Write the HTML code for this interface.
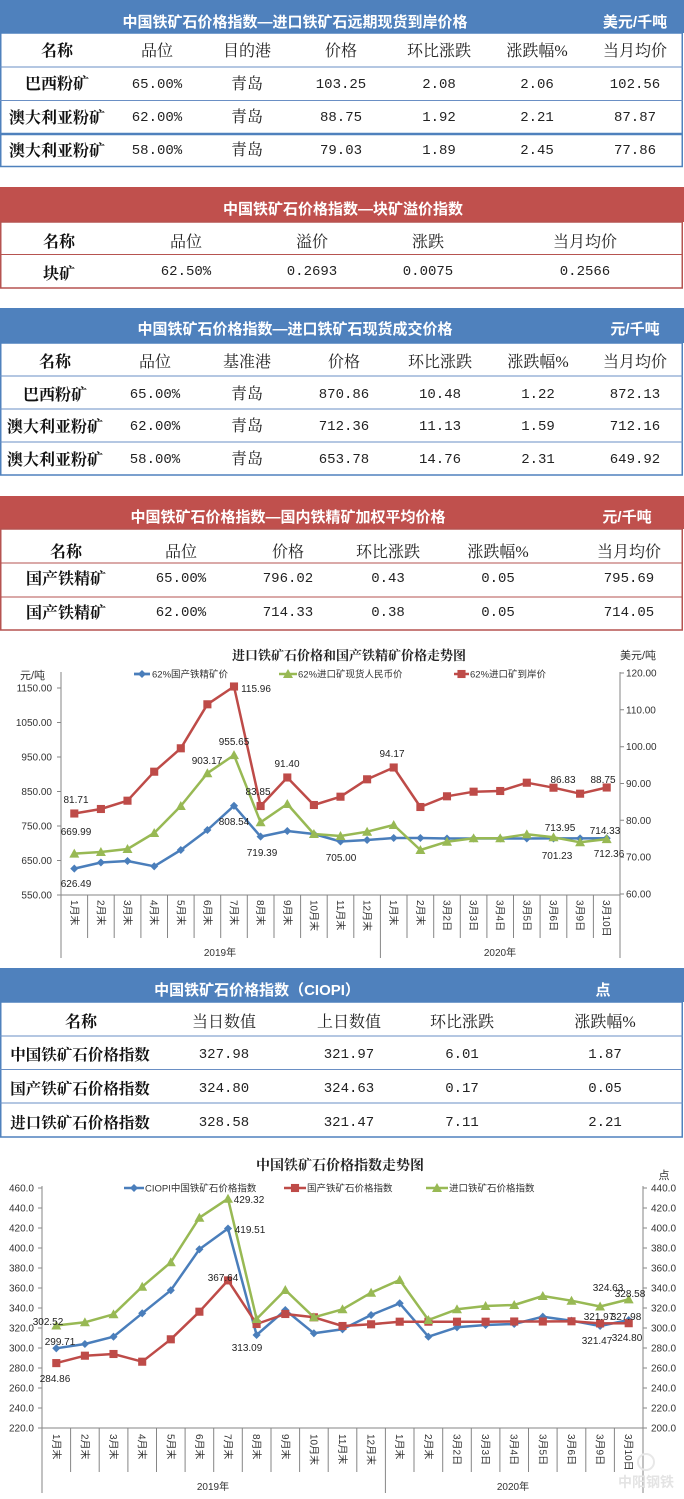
<!DOCTYPE html>
<html><head><meta charset="utf-8"><style>
html,body{margin:0;padding:0;background:#fff;}
svg{display:block;}
.tt{font-family:"Liberation Sans","Noto Sans CJK SC",sans-serif;font-weight:bold;font-size:15px;fill:#fff;}
.nm{font-family:"Liberation Serif","Noto Serif CJK SC",serif;font-weight:bold;font-size:16px;fill:#111;text-anchor:middle;}
.hd{font-family:"Liberation Serif","Noto Serif CJK SC",serif;font-size:16px;fill:#222;text-anchor:middle;}
.nu{font-family:"Liberation Mono",monospace;font-size:14px;fill:#222;text-anchor:middle;}
.ax{font-family:"Liberation Sans","Noto Sans CJK SC",sans-serif;font-size:10px;fill:#333;}
.dl{font-family:"Liberation Sans",sans-serif;font-size:10px;fill:#222;text-anchor:middle;}
.cat{font-family:"Liberation Sans","Noto Sans CJK SC",sans-serif;font-size:10px;fill:#333;}
.lg{font-family:"Liberation Sans","Noto Sans CJK SC",sans-serif;font-size:9.5px;fill:#333;}
.ct{font-family:"Liberation Serif","Noto Serif CJK SC",serif;font-weight:bold;font-size:13px;fill:#222;text-anchor:middle;}
</style></head><body>
<svg width="684" height="1499" viewBox="0 0 684 1499" xmlns="http://www.w3.org/2000/svg">
<defs>
<marker id="mb" viewBox="-5 -5 10 10" refX="0" refY="0" markerWidth="9" markerHeight="9" markerUnits="userSpaceOnUse"><path d="M0,-4.5L4.5,0L0,4.5L-4.5,0Z" fill="#4A7EBB"/></marker>
<marker id="mr" viewBox="-5 -5 10 10" refX="0" refY="0" markerWidth="9" markerHeight="9" markerUnits="userSpaceOnUse"><rect x="-4.5" y="-4.5" width="9" height="9" fill="#BE4B48"/></marker>
<marker id="mg" viewBox="-5 -5 10 10" refX="0" refY="0" markerWidth="10" markerHeight="10" markerUnits="userSpaceOnUse"><path d="M0,-5L5,4L-5,4Z" fill="#98B954"/></marker>
</defs>

<!-- TABLE 1 -->
<rect x="0" y="0" width="684" height="33" fill="#4F81BD"/>
<text class="tt" x="295" y="27" text-anchor="middle">中国铁矿石价格指数—进口铁矿石远期现货到岸价格</text>
<text class="tt" x="635" y="27" text-anchor="middle">美元/千吨</text>
<rect x="0.75" y="33" width="681.5" height="133.5" fill="#fff" stroke="#4F81BD" stroke-width="1.5"/>
<line x1="0" y1="67" x2="683" y2="67" stroke="#6a8fc4" stroke-width="1"/>
<line x1="0" y1="100.5" x2="683" y2="100.5" stroke="#6a8fc4" stroke-width="1"/>
<line x1="0" y1="134" x2="683" y2="134" stroke="#4F81BD" stroke-width="2.5"/>
<text class="nm" x="57" y="56">名称</text>
<text class="hd" x="157" y="56">品位</text><text class="hd" x="247" y="56">目的港</text><text class="hd" x="341" y="56">价格</text><text class="hd" x="439" y="56">环比涨跌</text><text class="hd" x="537" y="56">涨跌幅%</text><text class="hd" x="635" y="56">当月均价</text>
<text class="nm" x="57" y="89">巴西粉矿</text>
<text class="nu" x="157" y="88">65.00%</text><text class="hd" x="247" y="89">青岛</text><text class="nu" x="341" y="88">103.25</text><text class="nu" x="439" y="88">2.08</text><text class="nu" x="537" y="88">2.06</text><text class="nu" x="635" y="88">102.56</text>
<text class="nm" x="57" y="123">澳大利亚粉矿</text>
<text class="nu" x="157" y="121">62.00%</text><text class="hd" x="247" y="122">青岛</text><text class="nu" x="341" y="121">88.75</text><text class="nu" x="439" y="121">1.92</text><text class="nu" x="537" y="121">2.21</text><text class="nu" x="635" y="121">87.87</text>
<text class="nm" x="57" y="156">澳大利亚粉矿</text>
<text class="nu" x="157" y="154">58.00%</text><text class="hd" x="247" y="155">青岛</text><text class="nu" x="341" y="154">79.03</text><text class="nu" x="439" y="154">1.89</text><text class="nu" x="537" y="154">2.45</text><text class="nu" x="635" y="154">77.86</text>

<!-- TABLE 2 -->
<rect x="0" y="187" width="684" height="35" fill="#C0504D"/>
<text class="tt" x="343" y="214" text-anchor="middle">中国铁矿石价格指数—块矿溢价指数</text>
<rect x="0.75" y="222" width="681.5" height="66" fill="#fff" stroke="#B65350" stroke-width="1.5"/>
<line x1="0" y1="254.5" x2="683" y2="254.5" stroke="#B65350" stroke-width="1"/>
<text class="nm" x="59" y="247">名称</text>
<text class="hd" x="186" y="247">品位</text><text class="hd" x="312" y="247">溢价</text><text class="hd" x="428" y="247">涨跌</text><text class="hd" x="585" y="247">当月均价</text>
<text class="nm" x="59" y="279">块矿</text>
<text class="nu" x="186" y="275">62.50%</text><text class="nu" x="312" y="275">0.2693</text><text class="nu" x="428" y="275">0.0075</text><text class="nu" x="585" y="275">0.2566</text>

<!-- TABLE 3 -->
<rect x="0" y="308" width="684" height="35" fill="#4F81BD"/>
<text class="tt" x="295" y="334" text-anchor="middle">中国铁矿石价格指数—进口铁矿石现货成交价格</text>
<text class="tt" x="635" y="334" text-anchor="middle">元/千吨</text>
<rect x="0.75" y="343" width="681.5" height="132" fill="#fff" stroke="#4F81BD" stroke-width="1.5"/>
<line x1="0" y1="376" x2="683" y2="376" stroke="#6a8fc4" stroke-width="1"/>
<line x1="0" y1="409" x2="683" y2="409" stroke="#6a8fc4" stroke-width="1"/>
<line x1="0" y1="442" x2="683" y2="442" stroke="#6a8fc4" stroke-width="1"/>
<text class="nm" x="55" y="367">名称</text>
<text class="hd" x="155" y="367">品位</text><text class="hd" x="247" y="367">基准港</text><text class="hd" x="344" y="367">价格</text><text class="hd" x="440" y="367">环比涨跌</text><text class="hd" x="538" y="367">涨跌幅%</text><text class="hd" x="635" y="367">当月均价</text>
<text class="nm" x="55" y="400">巴西粉矿</text>
<text class="nu" x="155" y="398">65.00%</text><text class="hd" x="247" y="399">青岛</text><text class="nu" x="344" y="398">870.86</text><text class="nu" x="440" y="398">10.48</text><text class="nu" x="538" y="398">1.22</text><text class="nu" x="635" y="398">872.13</text>
<text class="nm" x="55" y="432">澳大利亚粉矿</text>
<text class="nu" x="155" y="430">62.00%</text><text class="hd" x="247" y="431">青岛</text><text class="nu" x="344" y="430">712.36</text><text class="nu" x="440" y="430">11.13</text><text class="nu" x="538" y="430">1.59</text><text class="nu" x="635" y="430">712.16</text>
<text class="nm" x="55" y="465">澳大利亚粉矿</text>
<text class="nu" x="155" y="463">58.00%</text><text class="hd" x="247" y="464">青岛</text><text class="nu" x="344" y="463">653.78</text><text class="nu" x="440" y="463">14.76</text><text class="nu" x="538" y="463">2.31</text><text class="nu" x="635" y="463">649.92</text>

<!-- TABLE 4 -->
<rect x="0" y="496" width="684" height="33" fill="#C0504D"/>
<text class="tt" x="288" y="522" text-anchor="middle">中国铁矿石价格指数—国内铁精矿加权平均价格</text>
<text class="tt" x="627" y="522" text-anchor="middle">元/千吨</text>
<rect x="0.75" y="529" width="681.5" height="101" fill="#fff" stroke="#B65350" stroke-width="1.5"/>
<line x1="0" y1="563" x2="683" y2="563" stroke="#B65350" stroke-width="1"/>
<line x1="0" y1="597" x2="683" y2="597" stroke="#B65350" stroke-width="1"/>
<text class="nm" x="66" y="557">名称</text>
<text class="hd" x="181" y="557">品位</text><text class="hd" x="288" y="557">价格</text><text class="hd" x="388" y="557">环比涨跌</text><text class="hd" x="498" y="557">涨跌幅%</text><text class="hd" x="629" y="557">当月均价</text>
<text class="nm" x="66" y="584">国产铁精矿</text>
<text class="nu" x="181" y="582">65.00%</text><text class="nu" x="288" y="582">796.02</text><text class="nu" x="388" y="582">0.43</text><text class="nu" x="498" y="582">0.05</text><text class="nu" x="629" y="582">795.69</text>
<text class="nm" x="66" y="618">国产铁精矿</text>
<text class="nu" x="181" y="616">62.00%</text><text class="nu" x="288" y="616">714.33</text><text class="nu" x="388" y="616">0.38</text><text class="nu" x="498" y="616">0.05</text><text class="nu" x="629" y="616">714.05</text>

<!-- CHART 1 -->
<text class="ct" x="349" y="660">进口铁矿石价格和国产铁精矿价格走势图</text>
<text class="ax" x="20" y="679" style="font-size:11px">元/吨</text>
<text class="ax" x="620" y="659" style="font-size:11px">美元/吨</text>
<!-- legend -->
<line x1="134" y1="674" x2="150" y2="674" stroke="#4A7EBB" stroke-width="2.5" marker-mid="url(#mb)"/>
<polyline points="134,674 142,674 150,674" fill="none" stroke="#4A7EBB" stroke-width="2.5" marker-mid="url(#mb)"/>
<text class="lg" x="152" y="677.5">62%国产铁精矿价</text>
<polyline points="279,674 288,674 297,674" fill="none" stroke="#98B954" stroke-width="2.5" marker-mid="url(#mg)"/>
<text class="lg" x="298" y="677.5">62%进口矿现货人民币价</text>
<polyline points="454,674 461.5,674 469,674" fill="none" stroke="#BE4B48" stroke-width="2.5" marker-mid="url(#mr)"/>
<text class="lg" x="470" y="677.5">62%进口矿到岸价</text>
<!-- axes -->
<g stroke="#868686" stroke-width="1" fill="none">
<line x1="61" y1="672" x2="61" y2="958"/>
<line x1="620" y1="672" x2="620" y2="958"/>
<line x1="61" y1="895" x2="620" y2="895"/>
<line x1="380.4" y1="895" x2="380.4" y2="958"/>
<path d="M87.6,895V938M114.2,895V938M140.9,895V938M167.5,895V938M194.1,895V938M220.7,895V938M247.3,895V938M274,895V938M300.6,895V938M327.2,895V938M353.8,895V938M407,895V938M433.7,895V938M460.3,895V938M486.9,895V938M513.5,895V938M540.1,895V938M566.8,895V938M593.4,895V938"/>
<path d="M57,895H61M57,860.5H61M57,826H61M57,791.5H61M57,757H61M57,722.5H61M57,688H61"/>
<path d="M620,894H624M620,857.2H624M620,820.3H624M620,783.5H624M620,746.7H624M620,709.8H624M620,673H624"/>
</g>
<g class="ax" text-anchor="end">
<text x="52" y="898.5">550.00</text><text x="52" y="864">650.00</text><text x="52" y="829.5">750.00</text><text x="52" y="795">850.00</text><text x="52" y="760.5">950.00</text><text x="52" y="726">1050.00</text><text x="52" y="691.5">1150.00</text>
</g>
<g class="ax">
<text x="626" y="897.5">60.00</text><text x="626" y="860.7">70.00</text><text x="626" y="823.8">80.00</text><text x="626" y="787">90.00</text><text x="626" y="750.2">100.00</text><text x="626" y="713.3">110.00</text><text x="626" y="676.5">120.00</text>
</g>
<!-- category labels chart1 -->
<g class="cat">
<text transform="translate(70.8,900) rotate(90)">1月末</text>
<text transform="translate(97.4,900) rotate(90)">2月末</text>
<text transform="translate(124,900) rotate(90)">3月末</text>
<text transform="translate(150.7,900) rotate(90)">4月末</text>
<text transform="translate(177.3,900) rotate(90)">5月末</text>
<text transform="translate(203.9,900) rotate(90)">6月末</text>
<text transform="translate(230.5,900) rotate(90)">7月末</text>
<text transform="translate(257.1,900) rotate(90)">8月末</text>
<text transform="translate(283.8,900) rotate(90)">9月末</text>
<text transform="translate(310.4,900) rotate(90)">10月末</text>
<text transform="translate(337,900) rotate(90)">11月末</text>
<text transform="translate(363.6,900) rotate(90)">12月末</text>
<text transform="translate(390.2,900) rotate(90)">1月末</text>
<text transform="translate(416.9,900) rotate(90)">2月末</text>
<text transform="translate(443.5,900) rotate(90)">3月2日</text>
<text transform="translate(470.1,900) rotate(90)">3月3日</text>
<text transform="translate(496.7,900) rotate(90)">3月4日</text>
<text transform="translate(523.3,900) rotate(90)">3月5日</text>
<text transform="translate(550,900) rotate(90)">3月6日</text>
<text transform="translate(576.6,900) rotate(90)">3月9日</text>
<text transform="translate(603.2,900) rotate(90)">3月10日</text>
</g>
<text class="ax" x="220" y="956" text-anchor="middle">2019年</text>
<text class="ax" x="500" y="956" text-anchor="middle">2020年</text>
<!-- series chart1 -->
<polyline fill="none" stroke="#4A7EBB" stroke-width="2.5" stroke-linejoin="round" marker-start="url(#mb)" marker-mid="url(#mb)" marker-end="url(#mb)" points="74.3,868.6 100.9,862.5 127.5,861 154.2,866.3 180.8,850 207.4,830 234,805.8 260.6,836.6 287.3,831 313.9,834 340.5,841.5 367.1,840 393.7,838 420.4,838 447,838.5 473.6,838.5 500.2,838.5 526.8,838.5 553.5,838.4 580.1,838.4 606.7,838.3"/>
<polyline fill="none" stroke="#98B954" stroke-width="2.5" stroke-linejoin="round" marker-start="url(#mg)" marker-mid="url(#mg)" marker-end="url(#mg)" points="74.3,853.6 100.9,852 127.5,849 154.2,833 180.8,806 207.4,773.2 234,755.1 260.6,822.3 287.3,804 313.9,834 340.5,836 367.1,831.7 393.7,825 420.4,850 447,841.7 473.6,838.3 500.2,838.3 526.8,834.3 553.5,837.3 580.1,842.3 606.7,839.1"/>
<polyline fill="none" stroke="#BE4B48" stroke-width="2.5" stroke-linejoin="round" marker-start="url(#mr)" marker-mid="url(#mr)" marker-end="url(#mr)" points="74.3,813.5 100.9,809 127.5,800.7 154.2,771.7 180.8,748.3 207.4,704.3 234,686.5 260.6,806 287.3,777.5 313.9,805 340.5,796.7 367.1,779.3 393.7,767.5 420.4,807 447,796.3 473.6,791.7 500.2,791 526.8,782.7 553.5,787.7 580.1,793.7 606.7,787.5"/>
<!-- data labels chart1 -->
<g class="dl">
<text x="76" y="803">81.71</text>
<text x="256" y="692">115.96</text>
<text x="234" y="745">955.65</text>
<text x="207" y="764">903.17</text>
<text x="258" y="795">83.85</text>
<text x="287" y="767">91.40</text>
<text x="392" y="757">94.17</text>
<text x="563" y="783">86.83</text>
<text x="603" y="783">88.75</text>
<text x="76" y="835">669.99</text>
<text x="234" y="825">808.54</text>
<text x="76" y="887">626.49</text>
<text x="262" y="856">719.39</text>
<text x="341" y="861">705.00</text>
<text x="560" y="831">713.95</text>
<text x="605" y="834">714.33</text>
<text x="557" y="859">701.23</text>
<text x="609" y="857">712.36</text>
</g>

<!-- TABLE 5 -->
<rect x="0" y="968" width="684" height="34" fill="#4F81BD"/>
<text class="tt" x="257" y="995" text-anchor="middle">中国铁矿石价格指数（CIOPI）</text>
<text class="tt" x="603" y="995" text-anchor="middle">点</text>
<rect x="0.75" y="1002" width="681.5" height="135" fill="#fff" stroke="#4F81BD" stroke-width="1.5"/>
<line x1="0" y1="1036" x2="683" y2="1036" stroke="#6a8fc4" stroke-width="1"/>
<line x1="0" y1="1069.5" x2="683" y2="1069.5" stroke="#6a8fc4" stroke-width="1"/>
<line x1="0" y1="1103" x2="683" y2="1103" stroke="#6a8fc4" stroke-width="1"/>
<text class="nm" x="81" y="1027">名称</text>
<text class="hd" x="224" y="1027">当日数值</text><text class="hd" x="349" y="1027">上日数值</text><text class="hd" x="462" y="1027">环比涨跌</text><text class="hd" x="605" y="1027">涨跌幅%</text>
<text class="nm" x="80" y="1060" style="font-size:15.5px">中国铁矿石价格指数</text>
<text class="nu" x="224" y="1058">327.98</text><text class="nu" x="349" y="1058">321.97</text><text class="nu" x="462" y="1058">6.01</text><text class="nu" x="605" y="1058">1.87</text>
<text class="nm" x="80" y="1094" style="font-size:15.5px">国产铁矿石价格指数</text>
<text class="nu" x="224" y="1092">324.80</text><text class="nu" x="349" y="1092">324.63</text><text class="nu" x="462" y="1092">0.17</text><text class="nu" x="605" y="1092">0.05</text>
<text class="nm" x="80" y="1128" style="font-size:15.5px">进口铁矿石价格指数</text>
<text class="nu" x="224" y="1126">328.58</text><text class="nu" x="349" y="1126">321.47</text><text class="nu" x="462" y="1126">7.11</text><text class="nu" x="605" y="1126">2.21</text>

<!-- CHART 2 -->
<text class="ct" x="340" y="1170" style="font-size:14px">中国铁矿石价格指数走势图</text>
<text class="ax" x="664" y="1179" text-anchor="middle" style="font-size:11px">点</text>
<polyline points="124,1188 134,1188 144,1188" fill="none" stroke="#4A7EBB" stroke-width="2.5" marker-mid="url(#mb)"/>
<text class="lg" x="145" y="1191.5">CIOPI中国铁矿石价格指数</text>
<polyline points="284,1188 295,1188 306,1188" fill="none" stroke="#BE4B48" stroke-width="2.5" marker-mid="url(#mr)"/>
<text class="lg" x="307" y="1191.5">国产铁矿石价格指数</text>
<polyline points="426,1188 437,1188 448,1188" fill="none" stroke="#98B954" stroke-width="2.5" marker-mid="url(#mg)"/>
<text class="lg" x="449" y="1191.5">进口铁矿石价格指数</text>
<g stroke="#868686" stroke-width="1" fill="none">
<line x1="42" y1="1186" x2="42" y2="1493"/>
<line x1="643" y1="1186" x2="643" y2="1493"/>
<line x1="42" y1="1428" x2="643" y2="1428"/>
<line x1="385.4" y1="1428" x2="385.4" y2="1493"/>
<path d="M70.6,1428V1472M99.2,1428V1472M127.9,1428V1472M156.5,1428V1472M185.1,1428V1472M213.7,1428V1472M242.3,1428V1472M271,1428V1472M299.6,1428V1472M328.2,1428V1472M356.8,1428V1472M414,1428V1472M442.7,1428V1472M471.3,1428V1472M499.9,1428V1472M528.5,1428V1472M557.1,1428V1472M585.8,1428V1472M614.4,1428V1472"/>
<path d="M38,1428H42M38,1408H42M38,1388H42M38,1368H42M38,1348H42M38,1328H42M38,1308H42M38,1288H42M38,1268H42M38,1248H42M38,1228H42M38,1208H42M38,1188H42"/>
<path d="M643,1428H647M643,1408H647M643,1388H647M643,1368H647M643,1348H647M643,1328H647M643,1308H647M643,1288H647M643,1268H647M643,1248H647M643,1228H647M643,1208H647M643,1188H647"/>
</g>
<g class="ax" text-anchor="end">
<text x="34" y="1431.5">220.0</text><text x="34" y="1411.5">240.0</text><text x="34" y="1391.5">260.0</text><text x="34" y="1371.5">280.0</text><text x="34" y="1351.5">300.0</text><text x="34" y="1331.5">320.0</text><text x="34" y="1311.5">340.0</text><text x="34" y="1291.5">360.0</text><text x="34" y="1271.5">380.0</text><text x="34" y="1251.5">400.0</text><text x="34" y="1231.5">420.0</text><text x="34" y="1211.5">440.0</text><text x="34" y="1191.5">460.0</text>
</g>
<g class="ax">
<text x="651" y="1431.5">200.0</text><text x="651" y="1411.5">220.0</text><text x="651" y="1391.5">240.0</text><text x="651" y="1371.5">260.0</text><text x="651" y="1351.5">280.0</text><text x="651" y="1331.5">300.0</text><text x="651" y="1311.5">320.0</text><text x="651" y="1291.5">340.0</text><text x="651" y="1271.5">360.0</text><text x="651" y="1251.5">380.0</text><text x="651" y="1231.5">400.0</text><text x="651" y="1211.5">420.0</text><text x="651" y="1191.5">440.0</text>
</g>
<g class="cat">
<text transform="translate(52.8,1434) rotate(90)">1月末</text>
<text transform="translate(81.4,1434) rotate(90)">2月末</text>
<text transform="translate(110,1434) rotate(90)">3月末</text>
<text transform="translate(138.7,1434) rotate(90)">4月末</text>
<text transform="translate(167.3,1434) rotate(90)">5月末</text>
<text transform="translate(195.9,1434) rotate(90)">6月末</text>
<text transform="translate(224.5,1434) rotate(90)">7月末</text>
<text transform="translate(253.1,1434) rotate(90)">8月末</text>
<text transform="translate(281.8,1434) rotate(90)">9月末</text>
<text transform="translate(310.4,1434) rotate(90)">10月末</text>
<text transform="translate(339,1434) rotate(90)">11月末</text>
<text transform="translate(367.6,1434) rotate(90)">12月末</text>
<text transform="translate(396.2,1434) rotate(90)">1月末</text>
<text transform="translate(424.9,1434) rotate(90)">2月末</text>
<text transform="translate(453.5,1434) rotate(90)">3月2日</text>
<text transform="translate(482.1,1434) rotate(90)">3月3日</text>
<text transform="translate(510.7,1434) rotate(90)">3月4日</text>
<text transform="translate(539.3,1434) rotate(90)">3月5日</text>
<text transform="translate(568,1434) rotate(90)">3月6日</text>
<text transform="translate(596.6,1434) rotate(90)">3月9日</text>
<text transform="translate(625.2,1434) rotate(90)">3月10日</text>
</g>
<text class="ax" x="213" y="1490" text-anchor="middle">2019年</text>
<text class="ax" x="513" y="1490" text-anchor="middle">2020年</text>
<polyline fill="none" stroke="#4A7EBB" stroke-width="2.5" stroke-linejoin="round" marker-start="url(#mb)" marker-mid="url(#mb)" marker-end="url(#mb)" points="56.3,1348.3 84.9,1344 113.5,1336.7 142.2,1313.3 170.8,1290.3 199.4,1249.3 228,1228.5 256.6,1335 285.3,1310 313.9,1333.3 342.5,1329.3 371.1,1315 399.7,1303.3 428.4,1336.7 457,1327.3 485.6,1325 514.2,1324 542.8,1316.7 571.5,1320.7 600.1,1326 628.7,1320"/>
<polyline fill="none" stroke="#BE4B48" stroke-width="2.5" stroke-linejoin="round" marker-start="url(#mr)" marker-mid="url(#mr)" marker-end="url(#mr)" points="56.3,1363.1 84.9,1355.7 113.5,1354 142.2,1361.7 170.8,1339.3 199.4,1311.7 228,1280.4 256.6,1324 285.3,1314 313.9,1317.3 342.5,1326 371.1,1324.3 399.7,1321.7 428.4,1321.7 457,1321.7 485.6,1321.7 514.2,1321.5 542.8,1321.5 571.5,1321.3 600.1,1323.4 628.7,1323.2"/>
<polyline fill="none" stroke="#98B954" stroke-width="2.5" stroke-linejoin="round" marker-start="url(#mg)" marker-mid="url(#mg)" marker-end="url(#mg)" points="56.3,1325.5 84.9,1322.3 113.5,1314.3 142.2,1286.7 170.8,1262.3 199.4,1217.7 228,1198.7 256.6,1319 285.3,1290 313.9,1317.3 342.5,1309.3 371.1,1292.7 399.7,1280 428.4,1320 457,1309.3 485.6,1306 514.2,1305 542.8,1296 571.5,1300.7 600.1,1306.5 628.7,1299.4"/>
<g class="dl">
<text x="48" y="1325">302.52</text>
<text x="249" y="1203">429.32</text>
<text x="250" y="1233">419.51</text>
<text x="223" y="1281">367.64</text>
<text x="608" y="1291">324.63</text>
<text x="630" y="1297">328.58</text>
<text x="599" y="1320">321.97</text>
<text x="626" y="1320">327.98</text>
<text x="60" y="1345">299.71</text>
<text x="55" y="1382">284.86</text>
<text x="247" y="1351">313.09</text>
<text x="597" y="1344">321.47</text>
<text x="627" y="1341">324.80</text>
</g>
<text x="646" y="1487" text-anchor="middle" style="font-family:'Liberation Sans','Noto Sans CJK SC',sans-serif;font-size:14px;font-weight:bold;fill:#e4e4e4">中阳钢铁</text>
<circle cx="646" cy="1462" r="8" fill="none" stroke="#e8e8e8" stroke-width="2"/>
</svg>
</body></html>
